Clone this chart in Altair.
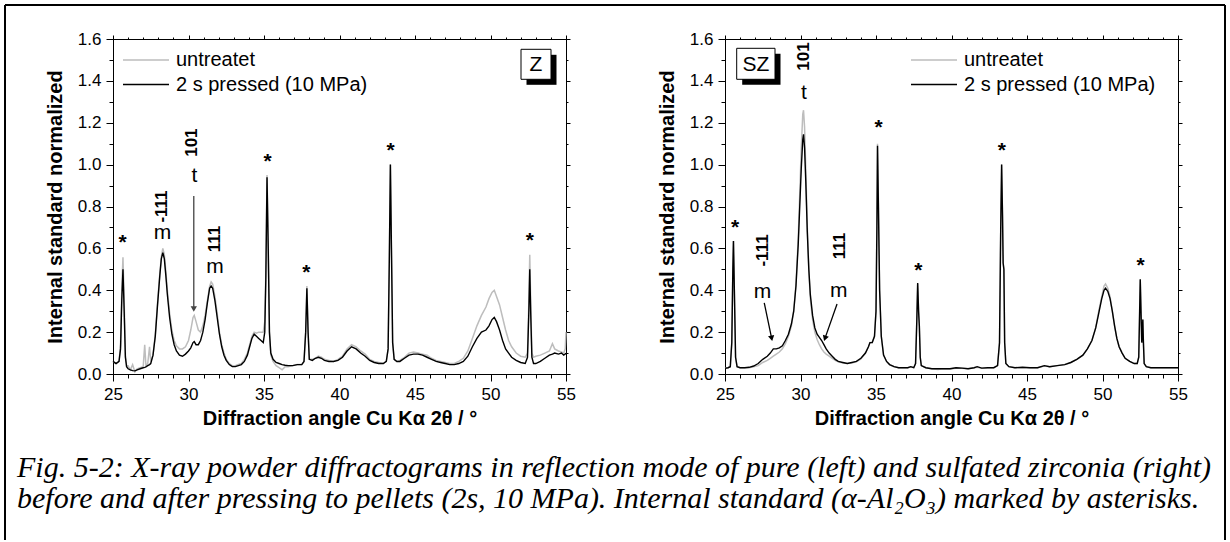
import math
import altair as alt
import pandas as pd

# ---------------- data ----------------
# Left panel: pure zirconia (Z)
z_angle = [25.0, 25.2, 25.4, 25.5, 25.58, 25.66, 25.74, 25.82, 25.9, 26.0, 26.15, 26.3, 26.45, 26.6, 26.8,
           27.0, 27.1, 27.18, 27.3, 27.42, 27.5, 27.65, 27.8, 27.95, 28.1, 28.2, 28.3, 28.4, 28.5, 28.6,
           28.75, 28.9, 29.05, 29.2, 29.4, 29.6, 29.8, 30.0, 30.15, 30.3, 30.38, 30.5, 30.65, 30.8, 30.95,
           31.1, 31.25, 31.4, 31.5, 31.6, 31.75, 31.9, 32.05, 32.2, 32.35, 32.5, 32.7, 32.9, 33.1, 33.3,
           33.5, 33.7, 33.9, 34.05, 34.2, 34.35, 34.5, 34.65, 34.8, 34.95, 35.05, 35.12, 35.2, 35.28, 35.36,
           35.45, 35.6, 35.8, 36.0, 36.2, 36.4, 36.6, 36.9, 37.2, 37.5, 37.65, 37.76, 37.84, 37.92, 38.0,
           38.2, 38.4, 38.6, 38.8, 39.0, 39.3, 39.6, 39.9, 40.2, 40.5, 40.8, 41.1, 41.4, 41.7, 42.0,
           42.3, 42.6, 42.9, 43.1, 43.22, 43.3, 43.37, 43.44, 43.52, 43.62, 43.8, 44.0, 44.3, 44.6, 44.9,
           45.2, 45.5, 45.8, 46.1, 46.4, 46.7, 47.0, 47.3, 47.6, 47.9, 48.2, 48.5, 48.8, 49.1, 49.4,
           49.7, 49.9, 50.1, 50.25, 50.4, 50.6, 50.8, 51.0, 51.2, 51.4, 51.7, 52.0, 52.3, 52.45, 52.54,
           52.6, 52.66, 52.74, 52.85, 53.0, 53.3, 53.6, 53.9, 54.1, 54.25, 54.5, 54.7, 54.85, 54.95, 55.0]
z_pressed = [0.06, 0.05, 0.06, 0.12, 0.35, 0.50, 0.30, 0.08, 0.035, 0.025, 0.02, 0.016, 0.015, 0.02, 0.025,
             0.03, 0.032, 0.034, 0.04, 0.045, 0.05, 0.09, 0.18, 0.33, 0.47, 0.55, 0.58, 0.55, 0.47, 0.38,
             0.27, 0.19, 0.14, 0.11, 0.09, 0.085, 0.095, 0.11, 0.125, 0.15, 0.155, 0.14, 0.14, 0.16, 0.20,
             0.26, 0.34, 0.41, 0.42, 0.41, 0.35, 0.27, 0.19, 0.13, 0.09, 0.065, 0.045, 0.035, 0.035, 0.04,
             0.045, 0.06, 0.09, 0.13, 0.17, 0.19, 0.18, 0.17, 0.16, 0.15, 0.20, 0.45, 0.94, 0.60, 0.20,
             0.10, 0.07, 0.055, 0.05, 0.045, 0.042, 0.04, 0.04, 0.045, 0.045, 0.06, 0.20, 0.41, 0.20, 0.07,
             0.065, 0.075, 0.08, 0.075, 0.065, 0.06, 0.06, 0.065, 0.08, 0.11, 0.13, 0.12, 0.10, 0.085, 0.065,
             0.055, 0.05, 0.05, 0.06, 0.12, 0.55, 1.0, 0.60, 0.15, 0.07, 0.06, 0.06, 0.075, 0.09, 0.095,
             0.095, 0.09, 0.08, 0.07, 0.06, 0.055, 0.05, 0.045, 0.045, 0.05, 0.06, 0.085, 0.13, 0.17, 0.20,
             0.21, 0.23, 0.26, 0.27, 0.25, 0.21, 0.16, 0.12, 0.10, 0.08, 0.065, 0.055, 0.05, 0.08, 0.30,
             0.50, 0.30, 0.08, 0.05, 0.05, 0.06, 0.075, 0.09, 0.095, 0.10, 0.095, 0.10, 0.09, 0.095, 0.10]
z_untreated = [0.06, 0.05, 0.06, 0.14, 0.40, 0.557, 0.35, 0.09, 0.04, 0.04, 0.02, 0.045, 0.01, 0.025, 0.03,
               0.035, 0.14, 0.04, 0.05, 0.13, 0.06, 0.09, 0.19, 0.34, 0.48, 0.56, 0.60, 0.57, 0.49, 0.40,
               0.29, 0.21, 0.16, 0.135, 0.12, 0.12, 0.13, 0.16, 0.21, 0.27, 0.28, 0.25, 0.21, 0.20, 0.23,
               0.28, 0.35, 0.42, 0.44, 0.43, 0.37, 0.29, 0.20, 0.14, 0.10, 0.07, 0.05, 0.04, 0.04, 0.045,
               0.05, 0.07, 0.10, 0.14, 0.18, 0.20, 0.195, 0.20, 0.20, 0.20, 0.25, 0.47, 0.95, 0.62, 0.20,
               0.09, 0.06, 0.04, 0.03, 0.02, 0.035, 0.035, 0.04, 0.045, 0.045, 0.06, 0.20, 0.42, 0.20, 0.07,
               0.07, 0.075, 0.085, 0.08, 0.07, 0.065, 0.06, 0.07, 0.085, 0.12, 0.14, 0.13, 0.11, 0.095, 0.07,
               0.06, 0.055, 0.05, 0.06, 0.12, 0.55, 1.0, 0.60, 0.15, 0.07, 0.06, 0.065, 0.08, 0.10, 0.105,
               0.10, 0.095, 0.09, 0.075, 0.065, 0.06, 0.055, 0.05, 0.05, 0.06, 0.075, 0.11, 0.17, 0.23, 0.28,
               0.32, 0.36, 0.39, 0.40, 0.37, 0.33, 0.27, 0.21, 0.16, 0.13, 0.10, 0.085, 0.08, 0.10, 0.35,
               0.57, 0.35, 0.10, 0.08, 0.085, 0.09, 0.10, 0.11, 0.145, 0.12, 0.11, 0.105, 0.10, 0.12, 0.20]

# Right panel: sulfated zirconia (SZ)
sz_angle = [25.0, 25.2, 25.35, 25.45, 25.52, 25.56, 25.62, 25.7, 25.8, 26.0, 26.3, 26.6, 26.9, 27.2, 27.5,
            27.8, 28.0, 28.2, 28.4, 28.6, 28.8, 29.0, 29.2, 29.4, 29.55, 29.7, 29.85, 29.95, 30.05, 30.15,
            30.2, 30.27, 30.35, 30.45, 30.55, 30.65, 30.8, 30.95, 31.1, 31.25, 31.4, 31.55, 31.7, 31.9, 32.1,
            32.3, 32.5, 32.8, 33.1, 33.4, 33.7, 34.0, 34.3, 34.5, 34.6, 34.75, 34.9, 35.0, 35.06, 35.1,
            35.16, 35.24, 35.35, 35.5, 35.7, 35.9, 36.2, 36.5, 36.8, 37.1, 37.3, 37.5, 37.62, 37.7, 37.76,
            37.82, 37.87, 37.93, 38.0, 38.3, 38.7, 39.1, 39.5, 39.9, 40.3, 40.7, 41.1, 41.5, 41.7, 42.0,
            42.4, 42.8, 43.05, 43.18, 43.26, 43.32, 43.38, 43.42, 43.47, 43.52, 43.6, 43.8, 44.2, 44.7, 45.2,
            45.7, 46.15, 46.5, 47.0, 47.5, 47.9, 48.3, 48.7, 49.0, 49.3, 49.55, 49.75, 49.95, 50.1, 50.2,
            50.35, 50.5, 50.65, 50.8, 50.95, 51.1, 51.3, 51.5, 51.8, 52.1, 52.3, 52.4, 52.46, 52.5, 52.55,
            52.6, 52.64, 52.67, 52.71, 52.76, 52.9, 53.2, 53.6, 54.0, 54.5, 55.0]
sz_pressed = [0.027, 0.03, 0.035, 0.15, 0.50, 0.635, 0.40, 0.08, 0.035, 0.03, 0.03, 0.032, 0.038, 0.05, 0.07,
              0.085, 0.10, 0.12, 0.12, 0.125, 0.135, 0.16, 0.19, 0.24, 0.30, 0.42, 0.62, 0.80, 0.98, 1.12,
              1.145, 1.08, 0.92, 0.68, 0.50, 0.38, 0.28, 0.22, 0.19, 0.175, 0.16, 0.14, 0.12, 0.10, 0.085,
              0.07, 0.06, 0.055, 0.05, 0.055, 0.06, 0.075, 0.10, 0.13, 0.15, 0.15, 0.18, 0.30, 0.70, 1.09,
              0.80, 0.40, 0.18, 0.09, 0.06, 0.045, 0.035, 0.03, 0.03, 0.03, 0.035, 0.03, 0.05, 0.25, 0.435,
              0.30, 0.23, 0.08, 0.04, 0.03, 0.025, 0.025, 0.025, 0.025, 0.03, 0.028, 0.025, 0.03, 0.035, 0.028,
              0.03, 0.03, 0.04, 0.15, 0.70, 1.0, 0.75, 0.53, 0.50, 0.15, 0.05, 0.035, 0.03, 0.032, 0.03,
              0.03, 0.04, 0.035, 0.04, 0.045, 0.055, 0.07, 0.09, 0.12, 0.16, 0.22, 0.29, 0.36, 0.40, 0.41,
              0.395, 0.36, 0.30, 0.23, 0.17, 0.13, 0.10, 0.075, 0.06, 0.05, 0.05, 0.08, 0.30, 0.452, 0.30,
              0.15, 0.20, 0.26, 0.15, 0.05, 0.035, 0.03, 0.03, 0.03, 0.03, 0.03]
sz_untreated = [0.027, 0.03, 0.035, 0.15, 0.50, 0.635, 0.40, 0.08, 0.035, 0.03, 0.03, 0.03, 0.034, 0.04, 0.055,
                0.065, 0.075, 0.085, 0.095, 0.105, 0.12, 0.145, 0.18, 0.23, 0.30, 0.43, 0.65, 0.86, 1.08, 1.24,
                1.26, 1.18, 0.98, 0.70, 0.50, 0.36, 0.26, 0.20, 0.165, 0.14, 0.12, 0.105, 0.095, 0.085, 0.075,
                0.065, 0.058, 0.052, 0.05, 0.052, 0.058, 0.072, 0.10, 0.13, 0.15, 0.15, 0.18, 0.30, 0.72, 1.10,
                0.82, 0.40, 0.18, 0.09, 0.06, 0.045, 0.035, 0.03, 0.03, 0.03, 0.033, 0.03, 0.05, 0.25, 0.43,
                0.30, 0.23, 0.08, 0.04, 0.03, 0.025, 0.022, 0.025, 0.024, 0.028, 0.028, 0.025, 0.03, 0.032, 0.028,
                0.03, 0.03, 0.04, 0.15, 0.70, 1.0, 0.75, 0.53, 0.50, 0.15, 0.05, 0.035, 0.03, 0.03, 0.03,
                0.03, 0.038, 0.035, 0.04, 0.045, 0.055, 0.07, 0.09, 0.12, 0.16, 0.22, 0.30, 0.37, 0.42, 0.43,
                0.41, 0.37, 0.30, 0.23, 0.17, 0.13, 0.10, 0.075, 0.06, 0.05, 0.05, 0.08, 0.30, 0.45, 0.30,
                0.15, 0.20, 0.26, 0.15, 0.05, 0.035, 0.03, 0.03, 0.03, 0.03, 0.03]

# annotations (angle, value, text)
z_stars = [(25.64, 0.656), (35.24, 1.04), (37.8, 0.51), (43.39, 1.093), (52.6, 0.664)]
z_letters = [(28.27, 0.664, "m"), (30.39, 0.935, "t"), (31.75, 0.50, "m")]
z_hkl = [(28.27, 0.80, "-111"), (30.2, 1.105, "101"), (31.75, 0.645, "111")]
z_arrows = [(30.35, 0.85, 30.35, 0.31)]

sz_stars = [(25.67, 0.726), (35.18, 1.205), (37.8, 0.52), (43.33, 1.095), (52.53, 0.544)]
sz_letters = [(27.49, 0.38, "m"), (30.22, 1.334, "t"), (32.53, 0.387, "m")]
sz_hkl = [(27.49, 0.59, "-111"), (30.22, 1.516, "101"), (32.64, 0.611, "111")]
sz_arrows = [(27.6, 0.34, 28.09, 0.17), (32.42, 0.334, 31.62, 0.17)]

legend_labels = ["untreatet", "2 s pressed (10 MPa)"]
x_major = [25, 30, 35, 40, 45, 50, 55]
x_minor = list(range(25, 56))
y_major = [0.0, 0.2, 0.4, 0.6, 0.8, 1.0, 1.2, 1.4, 1.6]
y_minor = [0.0, 0.1, 0.2, 0.3, 0.4, 0.5, 0.6, 0.7, 0.8, 0.9, 1.0, 1.1, 1.2, 1.3, 1.4, 1.5, 1.6]
caption1 = "Fig. 5-2: X-ray powder diffractograms in reflection mode of pure (left) and sulfated zirconia (right)"
caption2 = "before and after pressing to pellets (2s, 10 MPa). Internal standard (\u03b1-Al\u2082O\u2083) marked by asterisks."

# ---------------- style ----------------
W, H = 453, 335
FONT = "Liberation Sans"
GRAY = "#bdbdbd"
xs = alt.Scale(domain=[25, 55], nice=False, zero=False)
ys = alt.Scale(domain=[0, 1.6], nice=False, zero=False)

common = dict(grid=False, domainColor="black", tickColor="black", labelColor="black",
              titleColor="black", labelFont=FONT, titleFont=FONT, domainWidth=1, tickWidth=1)

ax_bottom = alt.Axis(orient="bottom", values=x_major, format="d", tickSize=7, labelPadding=5,
                     labelFontSize=17, labelFlush=False, labelOverlap=False,
                     title="Diffraction angle Cu K\u03b1 2\u03b8 / \u00b0", titleFontSize=20,
                     titleFontWeight="bold", titleY=44, titleBaseline="middle", **common)
ax_bottom_minor = alt.Axis(orient="bottom", values=x_minor, tickSize=4, labels=False, domain=False,
                           title=None, **common)
ax_top = alt.Axis(orient="top", values=x_major, tickSize=4, labels=False, title=None, **common)
ax_top_minor = alt.Axis(orient="top", values=x_minor, tickSize=2, labels=False, domain=False,
                        title=None, **common)
ax_left = alt.Axis(orient="left", values=y_major, format=".1f", tickSize=7, labelPadding=5,
                   labelFontSize=17, labelFlush=False, labelOverlap=False,
                   title="Internal standard normalized", titleFontSize=20, titleFontWeight="bold",
                   titleX=-58, titleY=H / 2, titleAngle=270, titleAlign="center",
                   titleBaseline="middle", **common)
ax_left_minor = alt.Axis(orient="left", values=y_minor, tickSize=4, labels=False, domain=False,
                         title=None, **common)
ax_right = alt.Axis(orient="right", values=y_major, tickSize=4, labels=False, title=None, **common)
ax_right_minor = alt.Axis(orient="right", values=y_minor, tickSize=2, labels=False, domain=False,
                          title=None, **common)


def one():
    return alt.Data(values=[{"k": 1}])


def panel(angle, pressed, untreated, stars, letters, hkl, arrows, leg_x, box, box_text, extras=None):
    df = pd.DataFrame({"angle": angle, "pressed": pressed, "untreated": untreated})
    base = alt.Chart(df)
    X = lambda ax: alt.X("angle:Q", scale=xs, axis=ax)
    layers = [
        base.mark_line(color=GRAY, strokeWidth=1.5).encode(
            x=X(ax_bottom), y=alt.Y("untreated:Q", scale=ys, axis=ax_left)),
        base.mark_line(color="black", strokeWidth=1.4).encode(
            x=X(ax_top), y=alt.Y("pressed:Q", scale=ys, axis=ax_right)),
        base.mark_point(opacity=0).encode(
            x=X(ax_bottom_minor), y=alt.Y("pressed:Q", scale=ys, axis=ax_left_minor)),
        base.mark_point(opacity=0).encode(
            x=X(ax_top_minor), y=alt.Y("pressed:Q", scale=ys, axis=ax_right_minor)),
    ]
    ax = lambda f: alt.X(f, scale=xs, axis=None)
    ay = lambda f: alt.Y(f, scale=ys, axis=None)
    sdf = pd.DataFrame(stars, columns=["a", "v"]).assign(t="*")
    layers.append(alt.Chart(sdf).mark_text(font=FONT, fontSize=21, fontWeight="bold", baseline="alphabetic",
                                           dy=12, color="black").encode(x=ax("a:Q"), y=ay("v:Q"), text="t:N"))
    ldf = pd.DataFrame(letters, columns=["a", "v", "t"])
    layers.append(alt.Chart(ldf).mark_text(font=FONT, fontSize=21, baseline="middle", dy=-2,
                                           color="black").encode(x=ax("a:Q"), y=ay("v:Q"), text="t:N"))
    hdf = pd.DataFrame(hkl, columns=["a", "v", "t"])
    layers.append(alt.Chart(hdf).mark_text(font=FONT, fontSize=17, fontWeight="bold", angle=270,
                                           baseline="middle", align="center",
                                           color="black").encode(x=ax("a:Q"), y=ay("v:Q"), text="t:N"))
    adf = pd.DataFrame(arrows, columns=["a", "v", "a2", "v2"])
    adf["ang"] = [
        (math.degrees(math.atan2((r.a2 - r.a) * W / 30, (r.v2 - r.v) * H / 1.6)) % 360)
        for r in adf.itertuples()
    ]
    acol = "#444444" if len(arrows) == 1 else "black"
    layers.append(alt.Chart(adf).mark_rule(color=acol, strokeWidth=1.3).encode(
        x=ax("a:Q"), y=ay("v:Q"), x2="a2:Q", y2="v2:Q"))
    layers.append(alt.Chart(adf).mark_point(shape="triangle-up", filled=True, size=40, opacity=1,
                                            color=acol).encode(
        x=ax("a2:Q"), y=ay("v2:Q"), angle=alt.Angle("ang:Q", scale=None)))
    # legend
    for lab, col, yy in [(legend_labels[0], GRAY, 21), (legend_labels[1], "black", 45.5)]:
        layers.append(alt.Chart(one()).mark_rule(color=col, strokeWidth=1.5).encode(
            x=alt.value(leg_x), x2=alt.value(leg_x + 46), y=alt.value(yy)))
        layers.append(alt.Chart(one()).mark_text(font=FONT, fontSize=20, align="left",
                                                 baseline="middle", color="black", text=lab).encode(
            x=alt.value(leg_x + 53), y=alt.value(yy)))
    # label box with shadow
    bx0, by0, bx1, by1 = box
    layers.append(alt.Chart(one()).mark_rect(color="black").encode(
        x=alt.value(bx0 + 5.5), x2=alt.value(bx1 + 5.5), y=alt.value(by0 + 5.5), y2=alt.value(by1 + 5.5)))
    layers.append(alt.Chart(one()).mark_rect(fill="white", stroke="black", strokeWidth=1).encode(
        x=alt.value(bx0), x2=alt.value(bx1), y=alt.value(by0), y2=alt.value(by1)))
    layers.append(alt.Chart(one()).mark_text(font=FONT, fontSize=21, align="center", baseline="middle",
                                             color="black", text=box_text).encode(
        x=alt.value((bx0 + bx1) / 2), y=alt.value((by0 + by1) / 2 + 1)))
    if extras:
        layers.extend(extras)
    return alt.layer(*layers).properties(width=W, height=H).resolve_axis(x="independent", y="independent")


# page frame and caption (drawn with the left panel, positions relative to its plot area)
CAP = dict(font="Liberation Serif", fontStyle="italic", fontSize=30, align="left",
           baseline="alphabetic", color="black")
frame = [
    alt.Chart(one()).mark_rule(color="black", strokeWidth=2).encode(
        x=alt.value(-108), x2=alt.value(1112), y=alt.value(-34)),
    alt.Chart(one()).mark_rule(color="black", strokeWidth=2).encode(
        x=alt.value(-108), y=alt.value(-34), y2=alt.value(501)),
    alt.Chart(one()).mark_rule(color="black", strokeWidth=2).encode(
        x=alt.value(1112), y=alt.value(-34), y2=alt.value(501)),
    alt.Chart(one()).mark_text(text=caption1, **CAP).encode(x=alt.value(-96), y=alt.value(438)),
    alt.Chart(one()).mark_text(text=caption2, **CAP).encode(x=alt.value(-96), y=alt.value(469)),
]

left = panel(z_angle, z_pressed, z_untreated, z_stars, z_letters, z_hkl, z_arrows,
             leg_x=10, box=(408, 10.3, 438, 40.3), box_text="Z", extras=frame)
right = panel(sz_angle, sz_pressed, sz_untreated, sz_stars, sz_letters, sz_hkl, sz_arrows,
              leg_x=186, box=(11.7, 9.3, 50, 40.3), box_text="SZ")

chart = alt.hconcat(left, right, spacing=159, bounds="flush").properties(
    padding={"left": 4, "top": 4, "right": 4, "bottom": 0},
    background="white",
).configure_view(stroke=None)

chart.save("out.html", embed_options={"renderer": "svg", "actions": False})
